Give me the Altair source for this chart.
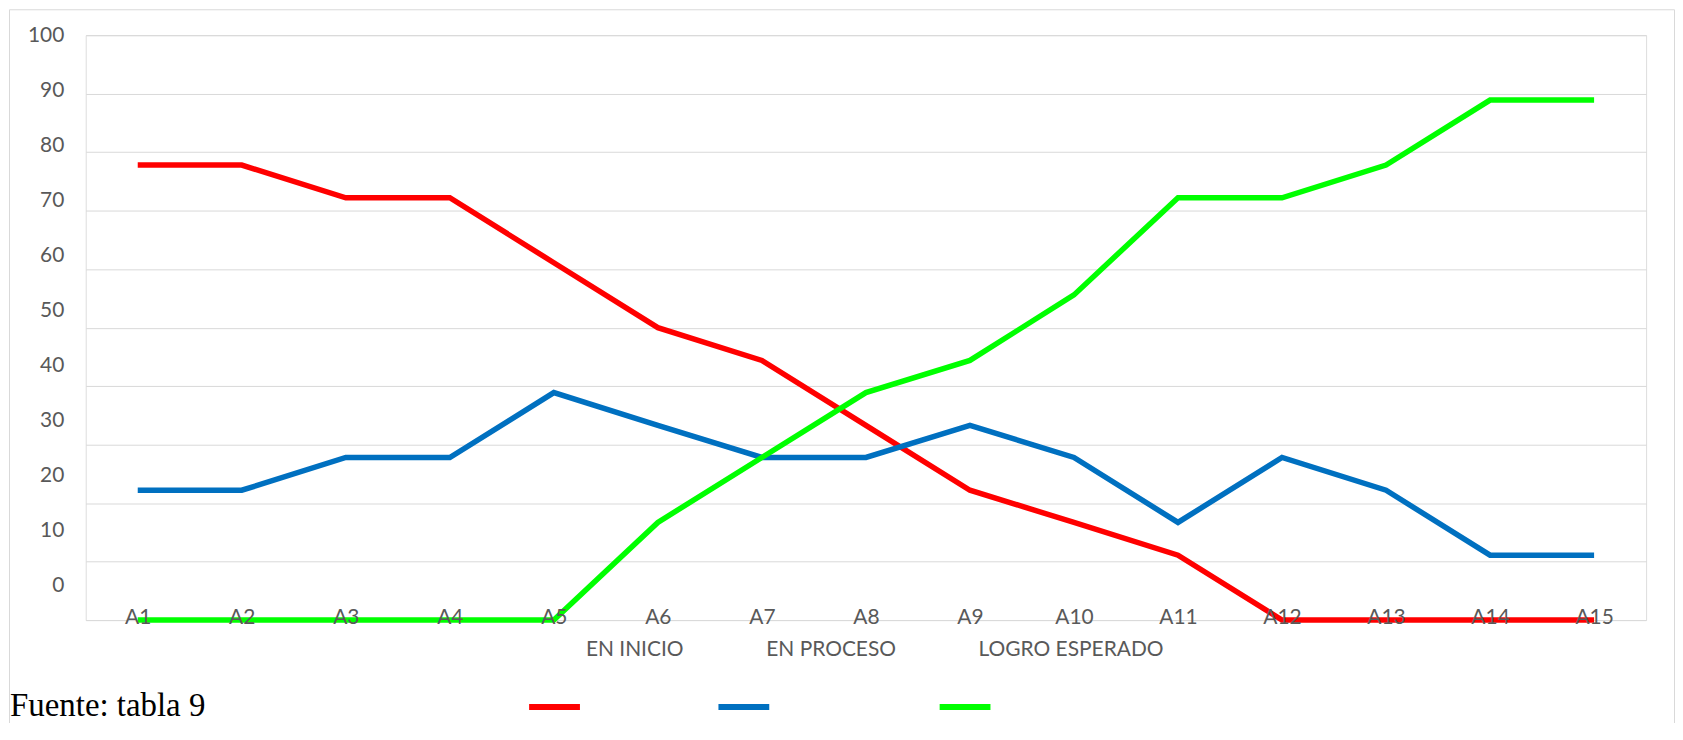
import altair as alt
import pandas as pd

categorias = ["A1", "A2", "A3", "A4", "A5", "A6", "A7", "A8", "A9", "A10",
              "A11", "A12", "A13", "A14", "A15"]
en_inicio = [77.8, 77.8, 72.2, 72.2, 61.1, 50.0, 44.4, 33.3, 22.2, 16.7, 11.1, 0, 0, 0, 0]
en_proceso = [22.2, 22.2, 27.8, 27.8, 38.9, 33.3, 27.8, 27.8, 33.3, 27.8, 16.7, 27.8, 22.2, 11.1, 11.1]
logro_esperado = [0, 0, 0, 0, 0, 16.7, 27.8, 38.9, 44.4, 55.6, 72.2, 72.2, 77.8, 88.9, 88.9]
series = ["EN INICIO", "EN PROCESO", "LOGRO ESPERADO"]
colores = ["#FF0000", "#0070C0", "#00FF00"]
y_ticks = [0, 10, 20, 30, 40, 50, 60, 70, 80, 90, 100]
fuente = ["Fuente: tabla 9"]

GRIS = "#595959"
FONT = "Lato"

rows = []
for nombre, valores in zip(series, [en_inicio, en_proceso, logro_esperado]):
    for i, (c, v) in enumerate(zip(categorias, valores)):
        rows.append({"Serie": nombre, "Etiqueta": nombre, "Categoria": c, "Valor": v, "orden": i})
df = pd.DataFrame(rows)

x_enc = alt.X(
    "Categoria:N",
    sort=categorias,
    scale=alt.Scale(type="point", padding=0.5),
    axis=alt.Axis(title=None, labelAngle=0, ticks=False, domain=False, grid=False,
                  labelFont=FONT, labelFontSize=21, labelColor=GRIS,
                  labelPadding=-3, labelBaseline="middle", zindex=1),
)

legend_common = dict(orient="none", legendX=442, direction="horizontal", title=None,
                     symbolType="stroke", symbolSize=2601, symbolStrokeWidth=6,
                     labelFont=FONT, labelFontSize=21, labelOffset=3,
                     columnPadding=22, padding=0, labelLimit=0)

border = alt.Chart(pd.DataFrame({"b": [1]})).mark_rect(
    fill="white", fillOpacity=0, stroke="#D9D9D9", strokeWidth=1
).encode(
    x=alt.value(-76.5), x2=alt.value(1594.5), y=alt.value(-25.5), y2=alt.value(720)
)

lines = alt.Chart(df).mark_line(strokeWidth=5.5).encode(
    x=x_enc,
    y=alt.Y("Valor:Q", scale=alt.Scale(domain=[0, 100], nice=False),
            axis=alt.Axis(orient="left", values=y_ticks, grid=True, gridColor="#D9D9D9",
                          gridWidth=1, labels=False, ticks=False, domain=False, title=None)),
    color=alt.Color("Serie:N", scale=alt.Scale(domain=series, range=colores),
                    legend=alt.Legend(legendY=645.5, labelOpacity=0, **legend_common)),
    order=alt.Order("orden:Q"),
)

points = alt.Chart(df).mark_point(opacity=0).encode(
    x=x_enc,
    y=alt.Y("Valor:Q", scale=alt.Scale(domain=[0, 100], nice=False), axis=None),
    shape=alt.Shape("Etiqueta:N",
                    scale=alt.Scale(range=["stroke", "stroke", "stroke"]),
                    legend=alt.Legend(legendY=588.5, symbolOpacity=0, labelColor=GRIS,
                                      **legend_common)),
)

label_axis = alt.Chart(pd.DataFrame({"tick": y_ticks})).mark_rule(opacity=0).encode(
    y=alt.Y("tick:Q", scale=alt.Scale(domain=[-6.25, 100], nice=False, zero=False),
            axis=alt.Axis(orient="left", values=y_ticks, grid=False, ticks=False,
                          domain=False, labelFont=FONT, labelFontSize=21,
                          labelColor=GRIS, labelPadding=22, title=None))
)

fuente_txt = alt.Chart(pd.DataFrame({"t": fuente})).mark_text(
    font="Liberation Serif", fontSize=33, align="left", baseline="alphabetic", color="black"
).encode(text="t:N", x=alt.value(-76), y=alt.value(683))

chart = alt.layer(border, lines, points, label_axis, fuente_txt).resolve_scale(
    y="independent"
).properties(
    width=1566, height=587, autosize="none",
    padding={"left": 78, "top": 26, "right": 29, "bottom": 102},
).configure_view(stroke=None).configure(font=FONT)

chart.save("out.html", embed_options={"renderer": "svg", "actions": False})
